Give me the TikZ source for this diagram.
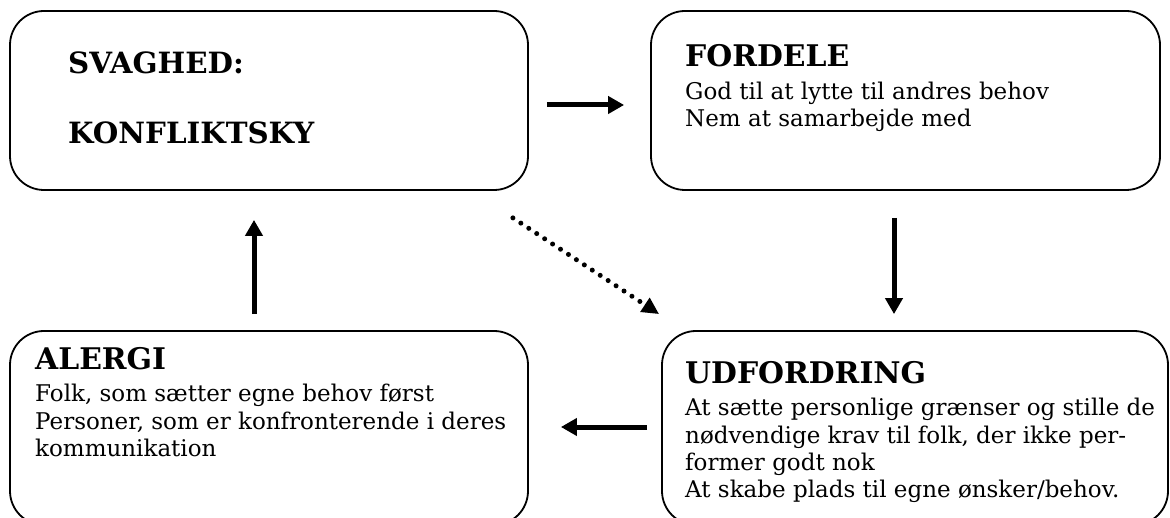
\documentclass[tikz,border=0pt]{standalone}
\usepackage{fontspec}
\setmainfont{DejaVu Serif}
\usetikzlibrary{arrows.meta}
\tikzset{
  box/.style={draw, line width=1.8pt, rounded corners=34pt, inner sep=0pt},
  head/.style={anchor=base west, inner sep=0pt, font=\bfseries\fontsize{29.8}{29.8}\selectfont},
  headA/.style={anchor=base west, inner sep=0pt, font=\bfseries\fontsize{29.3}{29.3}\selectfont},
  body/.style={anchor=base west, inner sep=0pt, font=\fontsize{23}{27}\selectfont},
  arr/.style={line width=5pt, -{Triangle[length=16pt,width=17pt]}},
  dotarr/.style={line width=5pt, line cap=round, dash pattern=on 0pt off 9.5pt, -{Triangle[length=17pt,width=16pt]}}
}
\begin{document}
\begin{tikzpicture}[x=1pt,y=-1pt]
\useasboundingbox (0,0) rectangle (1170,518);
% boxes
\node[box, minimum width=518pt, minimum height=179pt] (b1) at (269,100.5) {};
\node[box, minimum width=509pt, minimum height=179pt] (b2) at (905.5,100.5) {};
\node[box, minimum width=518pt, minimum height=194pt] (b3) at (269,428) {};
\node[box, minimum width=506pt, minimum height=194pt] (b4) at (915,428) {};
% texts
\node[headA] (t1a) at (68,74) {SVAGHED:};
\node[headA] (t1b) at (68,144) {KONFLIKTSKY};
\node[head] (t2) at (685,67) {FORDELE};
\node[body] (t2a) at (685,100) {God til at lytte til andres behov};
\node[body] (t2b) at (685,127) {Nem at samarbejde med};
\node[head] (t3) at (35,370) {ALERGI};
\node[body] (t3a) at (35,402) {Folk, som sætter egne behov først};
\node[body] (t3b) at (35,429) {Personer, som er konfronterende i deres};
\node[body] (t3c) at (35,456) {kommunikation};
\node[head] (t4) at (685,384) {UDFORDRING};
\node[body] (t4a) at (685,416) {At sætte personlige grænser og stille de};
\node[body] (t4b) at (685,443) {nødvendige krav til folk, der ikke per-};
\node[body] (t4c) at (685,470) {former godt nok};
\node[body] (t4d) at (685,497) {At skabe plads til egne ønsker/behov.};
% connectors
\draw[arr] ([shift={(18,4.5)}]b1.east) -- ([shift={(-26,4.5)}]b2.west);
\draw[arr] ([shift={(-11.5,27)}]b2.south) -- ([shift={(-21,-16)}]b4.north);
\draw[arr] ([shift={(-14,-1)}]b4.west) -- ([shift={(32,-1)}]b3.east);
\draw[arr] ([shift={(-15,-16)}]b3.north) -- ([shift={(-15,29)}]b1.south);
\draw[dotarr] ([shift={(-16,27)}]b1.south east) -- ([shift={(-2,-16)}]b4.north west);
\end{tikzpicture}
\end{document}
